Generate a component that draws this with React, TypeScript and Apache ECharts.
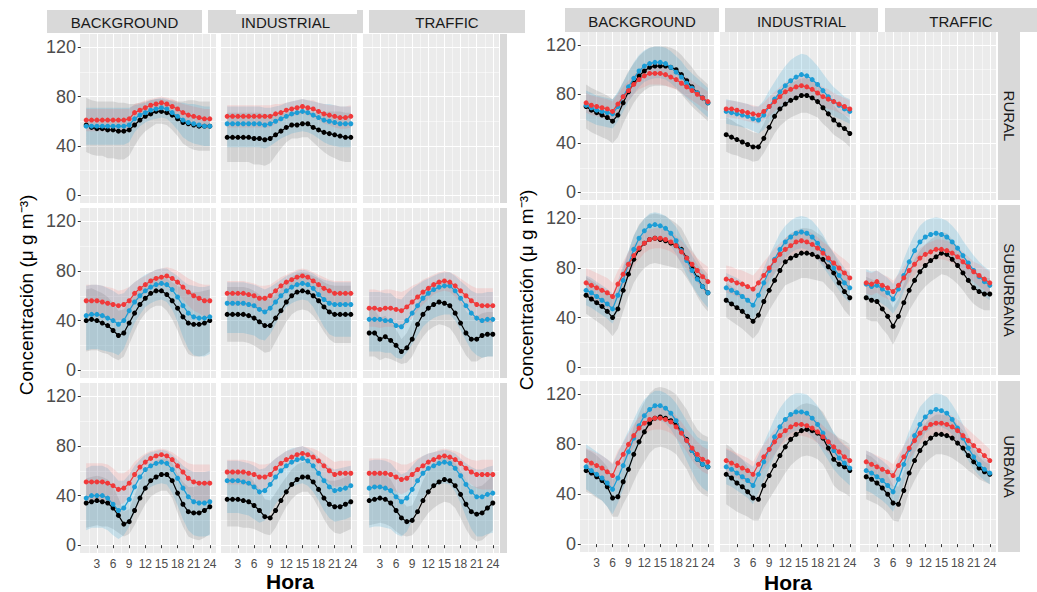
import React, { useEffect, useRef } from 'react';
import * as echarts from 'echarts';

// Hour of day (x) and axis breaks
const HOURS = [1, 2, 3, 4, 5, 6, 7, 8, 9, 10, 11, 12, 13, 14, 15, 16, 17, 18, 19, 20, 21, 22, 23, 24];
const X_MAJOR = [3, 6, 9, 12, 15, 18, 21, 24];
const X_MINOR = [1.5, 4.5, 7.5, 10.5, 13.5, 16.5, 19.5, 22.5];
const Y_MAJOR = [0, 40, 80, 120];
const Y_MINOR = [20, 60, 100];
const STATION_TYPES = ['BACKGROUND', 'INDUSTRIAL', 'TRAFFIC'];
const AREA_TYPES = ['RURAL', 'SUBURBANA', 'URBANA'];

// ---------- left block ----------
// *Sd = spread below (and above, unless an *Up array is given)
const lRurBgBlack = [57, 55, 54, 54, 53, 53, 52, 52, 53, 57, 61, 64, 66, 68, 68, 67, 65, 62, 59, 58, 57, 56, 56, 56];
const lRurBgBlackSd = [22, 22, 22, 22, 23, 23, 23, 23, 21, 17, 14, 12, 11, 10, 10, 10, 12, 14, 17, 19, 20, 20, 20, 20];
const lRurBgBlue = [56, 56, 56, 56, 56, 56, 56, 56, 57, 62, 65, 67, 69, 70, 71, 70, 67, 64, 61, 59, 58, 57, 56, 56];
const lRurBgBlueSd = [15, 15, 15, 15, 15, 15, 15, 15, 14, 11, 9, 8, 8, 8, 8, 8, 9, 11, 14, 15, 16, 16, 16, 16];
const lRurBgRed = [61, 61, 61, 61, 61, 61, 61, 61, 62, 67, 69, 71, 73, 74, 75, 74, 72, 70, 67, 65, 64, 63, 62, 62];
const lRurBgRedSd = [9, 9, 9, 9, 9, 9, 9, 9, 8, 7, 6, 6, 5, 5, 5, 5, 6, 6, 7, 8, 8, 8, 8, 8];

const lRurIndBlack = [47, 47, 47, 47, 47, 46, 46, 45, 46, 49, 52, 55, 57, 57, 58, 58, 55, 53, 51, 50, 49, 48, 47, 47];
const lRurIndBlackSd = [20, 20, 20, 20, 20, 21, 21, 21, 20, 17, 14, 12, 11, 11, 11, 11, 12, 14, 16, 18, 19, 20, 20, 20];
const lRurIndBlue = [58, 58, 58, 58, 58, 58, 58, 57, 58, 60, 62, 64, 66, 67, 68, 67, 65, 63, 61, 60, 59, 58, 58, 58];
const lRurIndBlueSd = [19, 19, 19, 19, 19, 19, 19, 19, 18, 17, 16, 16, 16, 16, 16, 16, 16, 17, 18, 19, 19, 19, 19, 19];
const lRurIndBlueUp = [14, 14, 14, 14, 14, 14, 14, 14, 13, 12, 11, 11, 10, 10, 10, 10, 11, 12, 13, 14, 14, 14, 14, 14];
const lRurIndRed = [64, 64, 64, 64, 64, 64, 64, 64, 64, 66, 67, 69, 70, 71, 72, 71, 70, 68, 66, 65, 64, 63, 63, 64];
const lRurIndRedSd = [9, 9, 9, 9, 9, 9, 9, 9, 9, 8, 7, 6, 6, 6, 6, 6, 7, 7, 8, 8, 9, 9, 9, 9];

const lSubBgBlack = [40, 41, 40, 38, 36, 32, 28, 30, 38, 46, 53, 58, 62, 64, 64, 61, 56, 50, 43, 38, 37, 37, 38, 40];
const lSubBgBlackSd = [25, 25, 24, 24, 23, 22, 20, 19, 17, 15, 13, 12, 12, 12, 12, 13, 15, 18, 22, 25, 26, 26, 26, 25];
const lSubBgBlue = [44, 45, 45, 44, 42, 40, 37, 40, 48, 55, 60, 64, 67, 69, 70, 69, 65, 59, 52, 46, 43, 42, 42, 43];
const lSubBgBlueSd = [28, 28, 28, 28, 27, 26, 25, 23, 20, 17, 15, 13, 13, 13, 13, 14, 16, 20, 25, 29, 31, 31, 31, 30];
const lSubBgBlueUp = [24, 24, 24, 24, 24, 24, 24, 22, 19, 16, 14, 13, 12, 12, 12, 13, 14, 17, 20, 23, 25, 25, 25, 25];
const lSubBgRed = [56, 56, 56, 55, 54, 53, 52, 53, 56, 62, 66, 69, 72, 74, 75, 76, 74, 71, 67, 63, 60, 58, 56, 56];
const lSubBgRedSd = [13, 13, 13, 13, 13, 13, 12, 12, 11, 9, 8, 7, 7, 7, 7, 7, 8, 9, 10, 11, 12, 12, 13, 13];

const lSubIndBlack = [45, 45, 45, 45, 44, 42, 39, 36, 36, 42, 48, 55, 60, 63, 64, 63, 60, 56, 51, 47, 45, 45, 45, 45];
const lSubIndBlackSd = [22, 22, 22, 22, 22, 22, 22, 22, 21, 19, 17, 16, 15, 15, 15, 15, 16, 18, 20, 22, 23, 23, 23, 23];
const lSubIndBlue = [54, 54, 54, 54, 53, 52, 49, 47, 50, 55, 60, 64, 67, 69, 70, 69, 66, 61, 57, 54, 53, 53, 53, 53];
const lSubIndBlueSd = [24, 24, 24, 24, 24, 24, 24, 23, 21, 18, 15, 13, 13, 13, 13, 13, 15, 18, 22, 25, 26, 26, 26, 26];
const lSubIndBlueUp = [17, 17, 17, 17, 17, 17, 18, 18, 17, 15, 13, 12, 11, 11, 11, 11, 12, 14, 16, 18, 18, 18, 18, 18];
const lSubIndRed = [62, 62, 62, 62, 61, 60, 58, 58, 60, 64, 68, 71, 73, 75, 76, 75, 72, 69, 66, 64, 62, 62, 62, 62];
const lSubIndRedSd = [10, 10, 10, 10, 10, 10, 10, 10, 9, 8, 7, 6, 6, 6, 6, 6, 7, 8, 9, 9, 10, 10, 10, 10];

const lSubTraBlack = [30, 30, 25, 27, 24, 20, 15, 18, 25, 37, 45, 50, 53, 55, 54, 52, 46, 38, 30, 25, 25, 28, 29, 29];
const lSubTraBlackSd = [19, 19, 17, 17, 15, 13, 10, 12, 14, 17, 18, 18, 18, 18, 18, 18, 18, 18, 18, 18, 18, 18, 18, 18];
const lSubTraBlue = [41, 41, 41, 40, 40, 36, 35, 40, 46, 52, 58, 62, 65, 67, 68, 68, 64, 58, 52, 46, 42, 40, 41, 41];
const lSubTraBlueSd = [26, 26, 26, 26, 26, 26, 26, 26, 25, 24, 23, 23, 23, 23, 23, 23, 24, 26, 28, 30, 30, 30, 30, 30];
const lSubTraBlueUp = [22, 22, 22, 22, 22, 22, 22, 22, 20, 17, 14, 12, 11, 11, 11, 11, 12, 14, 16, 18, 20, 22, 22, 22];
const lSubTraRed = [50, 50, 49, 50, 50, 49, 48, 51, 55, 59, 63, 66, 69, 71, 72, 71, 68, 64, 60, 56, 53, 52, 52, 52];
const lSubTraRedSd = [15, 15, 15, 15, 15, 15, 15, 14, 13, 11, 10, 9, 8, 8, 8, 8, 9, 10, 11, 12, 13, 14, 14, 14];

const lUrbBgBlack = [34, 35, 36, 35, 34, 30, 24, 17, 19, 28, 38, 46, 52, 55, 57, 57, 52, 42, 33, 27, 26, 26, 28, 31];
const lUrbBgBlackSd = [20, 20, 20, 20, 19, 17, 14, 10, 10, 12, 13, 13, 13, 13, 13, 13, 14, 16, 18, 20, 21, 22, 22, 22];
const lUrbBgBlue = [38, 40, 40, 40, 38, 33, 28, 30, 37, 47, 55, 61, 64, 66, 67, 66, 61, 54, 46, 39, 35, 34, 34, 35];
const lUrbBgBlueSd = [26, 26, 26, 26, 26, 25, 23, 22, 22, 21, 19, 17, 17, 17, 17, 17, 19, 22, 25, 27, 27, 27, 27, 27];
const lUrbBgBlueUp = [24, 24, 24, 24, 24, 24, 24, 22, 20, 17, 14, 12, 11, 10, 10, 10, 12, 15, 18, 22, 24, 25, 25, 25];
const lUrbBgRed = [51, 51, 51, 51, 50, 48, 45, 46, 50, 57, 63, 67, 70, 72, 73, 72, 69, 64, 59, 54, 51, 50, 50, 50];
const lUrbBgRedSd = [15, 15, 15, 15, 15, 14, 13, 12, 11, 10, 8, 7, 6, 5, 5, 5, 6, 8, 10, 12, 14, 15, 15, 15];

const lUrbIndBlack = [37, 37, 37, 36, 35, 32, 28, 23, 22, 28, 36, 43, 49, 53, 55, 55, 51, 45, 38, 33, 31, 31, 33, 35];
const lUrbIndBlackSd = [22, 22, 22, 22, 21, 19, 17, 14, 14, 14, 13, 12, 12, 12, 12, 12, 13, 15, 17, 19, 21, 22, 22, 22];
const lUrbIndBlue = [52, 52, 52, 51, 50, 47, 43, 44, 49, 55, 60, 64, 67, 69, 70, 68, 64, 58, 52, 47, 44, 45, 46, 48];
const lUrbIndBlueSd = [26, 26, 26, 26, 26, 26, 25, 24, 23, 22, 21, 20, 20, 20, 20, 20, 21, 22, 24, 25, 25, 25, 25, 25];
const lUrbIndBlueUp = [16, 16, 16, 16, 16, 17, 18, 18, 17, 15, 13, 12, 11, 10, 10, 10, 11, 13, 15, 16, 17, 17, 17, 16];
const lUrbIndRed = [59, 59, 59, 59, 58, 57, 55, 55, 57, 62, 66, 69, 71, 73, 74, 73, 71, 68, 64, 60, 57, 58, 58, 58];
const lUrbIndRedSd = [10, 10, 10, 10, 10, 10, 10, 10, 9, 8, 7, 7, 6, 6, 6, 6, 7, 8, 9, 10, 10, 10, 10, 10];

const lUrbTraBlack = [36, 37, 38, 37, 34, 28, 22, 19, 20, 27, 36, 43, 48, 51, 53, 52, 48, 41, 33, 27, 25, 26, 30, 34];
const lUrbTraBlackSd = [20, 20, 20, 20, 19, 17, 14, 12, 12, 14, 16, 17, 18, 18, 18, 18, 18, 19, 20, 21, 22, 22, 22, 22];
const lUrbTraBlue = [46, 47, 47, 46, 44, 39, 35, 38, 45, 52, 58, 62, 64, 66, 67, 66, 62, 56, 49, 43, 39, 39, 41, 42];
const lUrbTraBlueSd = [32, 32, 32, 32, 31, 30, 28, 27, 25, 22, 20, 18, 17, 17, 17, 17, 19, 22, 26, 30, 32, 32, 32, 32];
const lUrbTraBlueUp = [22, 22, 22, 22, 22, 22, 22, 21, 19, 17, 14, 12, 11, 10, 10, 10, 12, 14, 17, 20, 22, 22, 22, 22];
const lUrbTraRed = [58, 58, 58, 58, 57, 55, 53, 54, 57, 61, 64, 67, 69, 71, 72, 71, 69, 66, 62, 59, 57, 57, 57, 57];
const lUrbTraRedSd = [12, 12, 12, 12, 12, 12, 12, 11, 10, 9, 8, 7, 6, 6, 6, 6, 7, 8, 9, 10, 11, 12, 12, 12];

// ---------- right block ----------
const rRurBgBlack = [70, 67, 65, 63, 61, 58, 63, 73, 82, 89, 95, 99, 102, 103, 103, 103, 102, 100, 96, 91, 86, 81, 77, 73];
const rRurBgBlackSd = [18, 18, 18, 18, 18, 18, 18, 17, 17, 16, 16, 16, 16, 16, 16, 16, 16, 16, 16, 16, 16, 15, 15, 15];
const rRurBgBlue = [71, 69, 67, 66, 65, 64, 70, 78, 86, 93, 99, 103, 105, 106, 106, 105, 102, 98, 94, 89, 85, 81, 77, 73];
const rRurBgBlueSd = [12, 12, 12, 12, 12, 12, 12, 12, 12, 13, 13, 13, 13, 13, 13, 13, 13, 13, 13, 12, 12, 12, 12, 12];
const rRurBgRed = [73, 71, 70, 69, 68, 66, 72, 78, 83, 88, 92, 95, 97, 97, 97, 96, 94, 92, 89, 86, 83, 80, 77, 74];
const rRurBgRedSd = [8, 8, 8, 8, 8, 8, 8, 8, 8, 8, 8, 9, 9, 9, 9, 9, 9, 8, 8, 8, 8, 8, 8, 8];

const rRurIndBlack = [47, 45, 43, 41, 39, 37, 37, 44, 53, 62, 68, 72, 75, 77, 79, 79, 77, 74, 69, 64, 59, 55, 52, 48];
const rRurIndBlackSd = [14, 14, 13, 13, 12, 12, 11, 12, 13, 14, 14, 14, 14, 14, 14, 14, 14, 13, 13, 12, 12, 11, 11, 11];
const rRurIndBlue = [66, 65, 64, 63, 62, 60, 59, 63, 70, 76, 82, 87, 91, 94, 96, 95, 92, 88, 83, 78, 74, 71, 68, 66];
const rRurIndBlueSd = [10, 10, 10, 10, 10, 10, 11, 12, 13, 14, 15, 16, 17, 17, 17, 17, 16, 15, 14, 13, 12, 11, 10, 10];
const rRurIndRed = [68, 68, 67, 66, 65, 64, 63, 66, 70, 74, 78, 82, 84, 86, 87, 86, 84, 81, 78, 76, 74, 72, 70, 68];
const rRurIndRedSd = [7, 7, 7, 7, 7, 7, 7, 7, 8, 8, 8, 8, 8, 8, 8, 8, 8, 8, 8, 8, 7, 7, 7, 7];

const rSubBgBlack = [58, 55, 52, 49, 45, 40, 47, 62, 75, 87, 95, 100, 103, 104, 103, 102, 100, 98, 95, 88, 80, 72, 65, 60];
const rSubBgBlackSd = [15, 15, 15, 15, 15, 15, 16, 17, 18, 19, 20, 20, 20, 20, 20, 20, 19, 18, 17, 16, 15, 15, 15, 15];
const rSubBgBlue = [62, 60, 57, 54, 51, 47, 58, 70, 83, 95, 104, 110, 114, 115, 114, 112, 108, 102, 94, 86, 78, 71, 65, 60];
const rSubBgBlueSd = [12, 12, 12, 12, 12, 12, 12, 12, 11, 11, 10, 10, 10, 10, 10, 10, 10, 11, 11, 12, 12, 12, 12, 12];
const rSubBgRed = [68, 66, 64, 62, 60, 57, 67, 75, 83, 90, 96, 100, 103, 104, 104, 103, 101, 98, 93, 88, 83, 78, 73, 69];
const rSubBgRedSd = [12, 12, 12, 12, 12, 11, 11, 10, 10, 9, 9, 8, 8, 8, 8, 8, 8, 8, 9, 9, 10, 10, 11, 12];

const rSubIndBlack = [54, 51, 48, 45, 41, 37, 42, 53, 62, 70, 78, 85, 88, 90, 92, 92, 91, 89, 87, 81, 76, 68, 61, 56];
const rSubIndBlackSd = [14, 14, 14, 14, 14, 14, 14, 15, 16, 17, 18, 19, 20, 20, 20, 20, 20, 19, 18, 17, 16, 15, 15, 15];
const rSubIndBlue = [64, 62, 60, 57, 54, 50, 58, 68, 78, 87, 95, 101, 105, 108, 109, 108, 105, 100, 94, 87, 80, 74, 68, 64];
const rSubIndBlueSd = [12, 12, 12, 12, 12, 12, 12, 12, 12, 12, 13, 13, 13, 13, 13, 13, 13, 13, 13, 12, 12, 12, 12, 12];
const rSubIndRed = [71, 70, 68, 67, 65, 63, 68, 74, 80, 86, 91, 95, 98, 101, 102, 101, 99, 96, 92, 88, 84, 80, 76, 72];
const rSubIndRedSd = [11, 11, 11, 11, 11, 11, 11, 11, 10, 10, 9, 9, 9, 9, 9, 9, 9, 9, 9, 10, 10, 10, 11, 11];

const rSubTraBlack = [56, 54, 53, 47, 41, 33, 41, 52, 62, 70, 77, 82, 86, 89, 92, 91, 87, 82, 76, 70, 64, 61, 59, 59];
const rSubTraBlackSd = [17, 17, 16, 16, 15, 15, 14, 15, 16, 17, 17, 17, 17, 17, 17, 17, 16, 15, 14, 14, 13, 13, 13, 13];
const rSubTraBlue = [67, 65, 66, 63, 60, 55, 63, 74, 85, 94, 101, 105, 107, 108, 107, 105, 101, 96, 90, 84, 78, 73, 69, 66];
const rSubTraBlueSd = [12, 12, 12, 12, 12, 12, 13, 13, 13, 13, 13, 13, 13, 13, 13, 13, 13, 13, 12, 12, 12, 12, 12, 12];
const rSubTraRed = [68, 67, 69, 66, 64, 61, 66, 72, 78, 83, 88, 91, 93, 95, 95, 94, 92, 89, 85, 81, 77, 74, 71, 68];
const rSubTraRedSd = [9, 9, 9, 9, 9, 9, 9, 9, 9, 9, 8, 8, 8, 8, 8, 8, 8, 8, 8, 8, 8, 9, 9, 9];

const rUrbBgBlack = [59, 57, 54, 51, 46, 37, 38, 50, 60, 72, 82, 90, 97, 101, 102, 101, 99, 96, 90, 84, 75, 68, 64, 62];
const rUrbBgBlackSd = [17, 17, 17, 16, 16, 15, 16, 18, 20, 22, 23, 24, 24, 24, 24, 24, 24, 24, 24, 24, 24, 24, 24, 24];
const rUrbBgBlue = [62, 59, 56, 53, 49, 44, 53, 63, 74, 85, 95, 103, 108, 111, 111, 109, 105, 99, 91, 83, 75, 68, 64, 62];
const rUrbBgBlueSd = [18, 18, 18, 18, 19, 20, 20, 19, 17, 15, 14, 13, 12, 12, 12, 12, 13, 14, 15, 16, 17, 18, 19, 20];
const rUrbBgRed = [67, 65, 63, 61, 58, 55, 65, 72, 80, 87, 93, 97, 100, 101, 101, 100, 98, 94, 89, 83, 77, 72, 68, 66];
const rUrbBgRedSd = [10, 10, 10, 10, 10, 10, 10, 9, 9, 9, 9, 9, 9, 9, 9, 9, 9, 9, 9, 9, 10, 10, 10, 10];

const rUrbIndBlack = [56, 53, 49, 46, 42, 37, 36, 47, 55, 63, 71, 78, 84, 88, 91, 92, 91, 89, 85, 77, 68, 64, 62, 59];
const rUrbIndBlackSd = [24, 24, 23, 22, 20, 18, 17, 18, 19, 20, 21, 21, 21, 21, 21, 21, 21, 21, 21, 21, 21, 21, 21, 21];
const rUrbIndBlue = [62, 60, 57, 54, 51, 47, 56, 66, 76, 86, 94, 100, 104, 106, 106, 105, 101, 96, 89, 82, 75, 69, 65, 61];
const rUrbIndBlueSd = [14, 14, 14, 14, 14, 15, 15, 15, 15, 15, 15, 15, 15, 15, 15, 15, 15, 15, 15, 15, 15, 14, 14, 14];
const rUrbIndRed = [67, 65, 63, 61, 59, 56, 64, 70, 76, 82, 87, 91, 94, 96, 96, 95, 93, 90, 86, 82, 78, 74, 70, 67];
const rUrbIndRedSd = [10, 10, 10, 10, 10, 10, 10, 10, 10, 10, 9, 9, 9, 9, 9, 9, 9, 9, 9, 9, 10, 10, 10, 10];

const rUrbTraBlack = [54, 52, 49, 45, 40, 33, 32, 43, 57, 67, 75, 81, 85, 88, 88, 87, 85, 81, 77, 71, 66, 61, 58, 56];
const rUrbTraBlackSd = [18, 18, 17, 16, 15, 14, 14, 15, 15, 16, 16, 16, 16, 16, 16, 16, 16, 15, 14, 12, 10, 9, 8, 8];
const rUrbTraBlue = [59, 57, 54, 51, 47, 42, 52, 64, 76, 87, 96, 102, 106, 108, 107, 105, 100, 93, 85, 77, 70, 64, 60, 57];
const rUrbTraBlueSd = [16, 16, 16, 16, 16, 16, 16, 15, 15, 14, 14, 13, 13, 13, 13, 13, 12, 12, 11, 10, 10, 9, 9, 9];
const rUrbTraRed = [66, 64, 62, 60, 58, 55, 63, 70, 77, 83, 89, 93, 96, 97, 97, 96, 94, 91, 87, 83, 79, 75, 71, 67];
const rUrbTraRedSd = [9, 9, 9, 9, 9, 9, 9, 9, 9, 9, 9, 9, 9, 9, 9, 9, 9, 9, 9, 9, 9, 9, 9, 9];

// ---------- styling ----------
const FONT = '"Liberation Sans", Arial, Helvetica, sans-serif';
const PANEL_BG = '#ebebeb';
const STRIP_BG = '#d9d9d9';
const LINE_COLORS = ['#000000', '#1c9dd6', '#f0393a'];
const BAND_COLORS = ['rgba(110,110,110,0.2)', 'rgba(40,160,210,0.2)', 'rgba(245,85,85,0.15)'];
const X_MIN = -0.15;
const X_MAX = 25.15;
const Y_MIN = -6.3;
const Y_MAX = 130.8;

type Block = {
  cols: number[][];
  rows: number[][];
  strips: number[][];
  stripY: number[];
  rowStripX: number[];
  rowText: boolean;
  hora: number[];
  yTitle: number[];
};

const BLOCKS: Block[] = [
  {
    cols: [[80, 216], [221, 357], [363, 499]],
    rows: [[34, 203], [208, 378], [383, 553]],
    strips: [[47, 202], [208, 363], [369, 525]],
    stripY: [10, 33],
    rowStripX: [500, 507],
    rowText: false,
    hora: [290, 581],
    yTitle: [26, 295],
  },
  {
    cols: [[580, 714], [720, 856], [860, 996]],
    rows: [[32, 200], [205, 375], [381, 552]],
    strips: [[565, 719], [725, 878], [885, 1037]],
    stripY: [8, 32],
    rowStripX: [998, 1020],
    rowText: true,
    hora: [788, 582],
    yTitle: [526, 290],
  },
];

type Facet = {
  block: number;
  row: number;
  col: number;
  lines: number[][] | null;
  spreads: number[][] | null;
  upper?: (number[] | null)[];
};

const FACETS: Facet[] = [
  { block: 0, row: 0, col: 0, lines: [lRurBgBlack, lRurBgBlue, lRurBgRed], spreads: [lRurBgBlackSd, lRurBgBlueSd, lRurBgRedSd] },
  { block: 0, row: 0, col: 1, lines: [lRurIndBlack, lRurIndBlue, lRurIndRed], spreads: [lRurIndBlackSd, lRurIndBlueSd, lRurIndRedSd], upper: [null, lRurIndBlueUp, null] },
  { block: 0, row: 0, col: 2, lines: null, spreads: null },
  { block: 0, row: 1, col: 0, lines: [lSubBgBlack, lSubBgBlue, lSubBgRed], spreads: [lSubBgBlackSd, lSubBgBlueSd, lSubBgRedSd], upper: [null, lSubBgBlueUp, null] },
  { block: 0, row: 1, col: 1, lines: [lSubIndBlack, lSubIndBlue, lSubIndRed], spreads: [lSubIndBlackSd, lSubIndBlueSd, lSubIndRedSd], upper: [null, lSubIndBlueUp, null] },
  { block: 0, row: 1, col: 2, lines: [lSubTraBlack, lSubTraBlue, lSubTraRed], spreads: [lSubTraBlackSd, lSubTraBlueSd, lSubTraRedSd], upper: [null, lSubTraBlueUp, null] },
  { block: 0, row: 2, col: 0, lines: [lUrbBgBlack, lUrbBgBlue, lUrbBgRed], spreads: [lUrbBgBlackSd, lUrbBgBlueSd, lUrbBgRedSd], upper: [null, lUrbBgBlueUp, null] },
  { block: 0, row: 2, col: 1, lines: [lUrbIndBlack, lUrbIndBlue, lUrbIndRed], spreads: [lUrbIndBlackSd, lUrbIndBlueSd, lUrbIndRedSd], upper: [null, lUrbIndBlueUp, null] },
  { block: 0, row: 2, col: 2, lines: [lUrbTraBlack, lUrbTraBlue, lUrbTraRed], spreads: [lUrbTraBlackSd, lUrbTraBlueSd, lUrbTraRedSd], upper: [null, lUrbTraBlueUp, null] },
  { block: 1, row: 0, col: 0, lines: [rRurBgBlack, rRurBgBlue, rRurBgRed], spreads: [rRurBgBlackSd, rRurBgBlueSd, rRurBgRedSd] },
  { block: 1, row: 0, col: 1, lines: [rRurIndBlack, rRurIndBlue, rRurIndRed], spreads: [rRurIndBlackSd, rRurIndBlueSd, rRurIndRedSd] },
  { block: 1, row: 0, col: 2, lines: null, spreads: null },
  { block: 1, row: 1, col: 0, lines: [rSubBgBlack, rSubBgBlue, rSubBgRed], spreads: [rSubBgBlackSd, rSubBgBlueSd, rSubBgRedSd] },
  { block: 1, row: 1, col: 1, lines: [rSubIndBlack, rSubIndBlue, rSubIndRed], spreads: [rSubIndBlackSd, rSubIndBlueSd, rSubIndRedSd] },
  { block: 1, row: 1, col: 2, lines: [rSubTraBlack, rSubTraBlue, rSubTraRed], spreads: [rSubTraBlackSd, rSubTraBlueSd, rSubTraRedSd] },
  { block: 1, row: 2, col: 0, lines: [rUrbBgBlack, rUrbBgBlue, rUrbBgRed], spreads: [rUrbBgBlackSd, rUrbBgBlueSd, rUrbBgRedSd] },
  { block: 1, row: 2, col: 1, lines: [rUrbIndBlack, rUrbIndBlue, rUrbIndRed], spreads: [rUrbIndBlackSd, rUrbIndBlueSd, rUrbIndRedSd] },
  { block: 1, row: 2, col: 2, lines: [rUrbTraBlack, rUrbTraBlue, rUrbTraRed], spreads: [rUrbTraBlackSd, rUrbTraBlueSd, rUrbTraRedSd] },
];

// Shaded band (mean - below .. mean + above) drawn as one polygon through the axis scales
function bandSeries(axisIdx: number, mean: number[], below: number[], above: number[], color: string) {
  return {
    type: 'custom',
    xAxisIndex: axisIdx,
    yAxisIndex: axisIdx,
    silent: true,
    clip: true,
    z: 1,
    data: HOURS.map((h, i) => [h, mean[i] - below[i], mean[i] + above[i]]),
    encode: { x: 0, y: [1, 2] },
    renderItem: (params: any, api: any) => {
      if (params.dataIndex !== 0) return null;
      const top = HOURS.map((h, i) => api.coord([h, mean[i] + above[i]]));
      const bottom = HOURS.map((h, i) => api.coord([h, mean[i] - below[i]])).reverse();
      return { type: 'polygon', shape: { points: top.concat(bottom) }, style: { fill: color } };
    },
  };
}

function lineSeries(axisIdx: number, values: number[], color: string, z: number) {
  return {
    type: 'line',
    xAxisIndex: axisIdx,
    yAxisIndex: axisIdx,
    silent: true,
    clip: true,
    z,
    data: HOURS.map((h, i) => [h, values[i]]),
    symbol: 'circle',
    symbolSize: 5,
    showSymbol: true,
    lineStyle: { color, width: 1.2 },
    itemStyle: { color, borderWidth: 0 },
  };
}

function text(x: number, y: number, str: string, opts: any = {}) {
  return {
    type: 'text',
    x,
    y,
    z: 20,
    rotation: opts.rotation || 0,
    silent: true,
    style: {
      text: str,
      fill: opts.fill || '#1a1a1a',
      fontSize: opts.fontSize || 15,
      fontWeight: opts.fontWeight || 'normal',
      fontFamily: FONT,
      align: 'center',
      verticalAlign: 'middle',
      textAlign: 'center',
      textVerticalAlign: 'middle',
    },
  };
}

function buildOption() {
  const grid: any[] = [];
  const xAxis: any[] = [];
  const yAxis: any[] = [];
  const series: any[] = [];
  const graphic: any[] = [];

  FACETS.forEach((f, idx) => {
    const b = BLOCKS[f.block];
    const [x0, x1] = b.cols[f.col];
    const [y0, y1] = b.rows[f.row];
    const bottomRow = f.row === 2;
    const firstCol = f.col === 0;
    grid.push({
      left: x0,
      top: y0,
      width: x1 - x0,
      height: y1 - y0,
      show: true,
      backgroundColor: PANEL_BG,
      borderWidth: 0,
      containLabel: false,
    });
    // major axes (index 2*idx) and minor-gridline axes (index 2*idx+1)
    xAxis.push({
      type: 'value', gridIndex: idx, min: X_MIN, max: X_MAX,
      axisLine: { show: false },
      axisTick: { show: bottomRow, customValues: X_MAJOR, length: 3, lineStyle: { color: '#333', width: 1 } },
      axisLabel: { show: bottomRow, customValues: X_MAJOR, fontSize: 12, color: '#4d4d4d', margin: 5, fontFamily: FONT },
      splitLine: { show: true, lineStyle: { color: '#ffffff', width: 1.1 } },
    });
    xAxis.push({
      type: 'value', gridIndex: idx, min: X_MIN, max: X_MAX,
      axisLine: { show: false },
      axisTick: { show: false, customValues: X_MINOR },
      axisLabel: { show: false, customValues: X_MINOR },
      splitLine: { show: true, lineStyle: { color: '#ffffff', width: 0.5 } },
    });
    yAxis.push({
      type: 'value', gridIndex: idx, min: Y_MIN, max: Y_MAX,
      axisLine: { show: false },
      axisTick: { show: firstCol, customValues: Y_MAJOR, length: 3, lineStyle: { color: '#333', width: 1 } },
      axisLabel: { show: firstCol, customValues: Y_MAJOR, fontSize: 18, color: '#4d4d4d', margin: 4, fontFamily: FONT },
      splitLine: { show: true, lineStyle: { color: '#ffffff', width: 1.1 } },
    });
    yAxis.push({
      type: 'value', gridIndex: idx, min: Y_MIN, max: Y_MAX, position: 'left',
      axisLine: { show: false },
      axisTick: { show: false, customValues: Y_MINOR },
      axisLabel: { show: false, customValues: Y_MINOR },
      splitLine: { show: true, lineStyle: { color: '#ffffff', width: 0.5 } },
    });

    if (f.lines && f.spreads) {
      const ax = 2 * idx;
      f.lines.forEach((vals, k) => {
        const below = f.spreads![k];
        const above = (f.upper && f.upper[k]) || below;
        series.push(bandSeries(ax, vals, below, above, BAND_COLORS[k]));
      });
      f.lines.forEach((vals, k) => series.push(lineSeries(ax, vals, LINE_COLORS[k], 3 + k)));
    }
  });

  BLOCKS.forEach((b) => {
    // column strips
    b.strips.forEach(([sx0, sx1], c) => {
      graphic.push({ type: 'rect', z: 5, silent: true, shape: { x: sx0, y: b.stripY[0], width: sx1 - sx0, height: b.stripY[1] - b.stripY[0] }, style: { fill: STRIP_BG } });
      graphic.push(text((sx0 + sx1) / 2, (b.stripY[0] + b.stripY[1]) / 2 + 1, STATION_TYPES[c], { fontSize: 15 }));
    });
    // row strips
    b.rows.forEach(([ry0, ry1], r) => {
      graphic.push({ type: 'rect', z: 5, silent: true, shape: { x: b.rowStripX[0], y: ry0, width: b.rowStripX[1] - b.rowStripX[0], height: ry1 - ry0 }, style: { fill: STRIP_BG } });
      if (b.rowText) {
        graphic.push(text((b.rowStripX[0] + b.rowStripX[1]) / 2, (ry0 + ry1) / 2, AREA_TYPES[r], { fontSize: 15, rotation: -Math.PI / 2 }));
      }
    });
    graphic.push(text(b.hora[0], b.hora[1], 'Hora', { fontSize: 21, fontWeight: 'bold', fill: '#000' }));
    graphic.push(text(b.yTitle[0], b.yTitle[1], 'Concentración (μ g m⁻³)', { fontSize: 19, fill: '#000', rotation: Math.PI / 2 }));
  });
  // white notch over the top of the left INDUSTRIAL strip
  graphic.push({ type: 'rect', z: 6, silent: true, shape: { x: 236, y: 9, width: 121, height: 5 }, style: { fill: '#ffffff' } });

  return {
    animation: false,
    backgroundColor: '#ffffff',
    textStyle: { fontFamily: FONT },
    grid,
    xAxis,
    yAxis,
    series,
    graphic,
  };
}

export default function App() {
  const ref = useRef<HTMLDivElement>(null);
  useEffect(() => {
    if (!ref.current) return;
    const chart = echarts.init(ref.current, null, { renderer: 'svg' });
    chart.setOption(buildOption() as any);
    return () => chart.dispose();
  }, []);
  return <div ref={ref} style={{ position: 'absolute', left: 0, top: 0, width: 1037, height: 592 }} />;
}
